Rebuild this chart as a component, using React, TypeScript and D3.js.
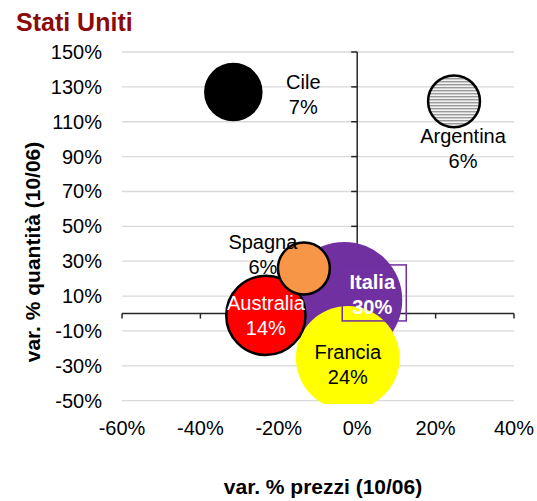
import React from "react";
import * as d3 from "d3";

const countries = ["Cile", "Argentina", "Italia", "Francia", "Australia", "Spagna"];
const priceVar = [-31.6, 24.7, -3.3, -2.4, -23.3, -13.6];
const qtyVar = [127, 121.7, 7.8, -25.5, -1.1, 25.8];
const share = [7, 6, 30, 24, 14, 6];
const xTickValues = [-60, -40, -20, 0, 20, 40];
const yTickValues = [150, 130, 110, 90, 70, 50, 30, 10, -10, -30, -50];

const title = "Stati Uniti";
const xTitle = "var. % prezzi (10/06)";
const yTitle = "var. % quantità (10/06)";

const style: Record<string, { fill: string; stroke: string; text: string; bold: boolean; dx: number; dy: number }> = {
  Cile: { fill: "#000000", stroke: "#000000", text: "#000000", bold: false, dx: 70, dy: -10 },
  Argentina: { fill: "url(#stripes)", stroke: "#000000", text: "#000000", bold: false, dx: 9, dy: 35 },
  Italia: { fill: "#7030A0", stroke: "none", text: "#FFFFFF", bold: true, dx: 28, dy: -18 },
  Francia: { fill: "#FFFF00", stroke: "none", text: "#000000", bold: false, dx: 0, dy: -6 },
  Australia: { fill: "#FF0000", stroke: "#000000", text: "#FFFFFF", bold: false, dx: 0, dy: -12 },
  Spagna: { fill: "#F79646", stroke: "#000000", text: "#000000", bold: false, dx: -41, dy: -27 },
};

const FONT = "'Liberation Sans', Arial, sans-serif";

export default function App() {
  const W = 537, H = 501;
  const x = d3.scaleLinear().domain([-60, 40]).range([122, 514]);
  const y = d3.scaleLinear().domain([-50, 150]).range([400.7, 52]);
  const r = d3.scaleSqrt().domain([0, 30]).range([0, 58]);

  const data = countries.map((c, i) => ({ c, px: priceVar[i], qy: qtyVar[i], s: share[i] }));
  const order = ["Cile", "Argentina", "Italia", "Francia", "Australia", "Spagna"];
  const drawn = order.map((c) => data.find((d) => d.c === c)!);

  const x0 = x(0), y0 = y(0);
  const italia = data.find((d) => d.c === "Italia")!;
  const ix = x(italia.px) + style.Italia.dx, iy = y(italia.qy) + style.Italia.dy;

  return (
    <svg width={W} height={H} style={{ position: "absolute", left: 0, top: 0, background: "#fff" }} fontFamily={FONT}>
      <defs>
        <pattern id="stripes" width="4" height="3" patternUnits="userSpaceOnUse">
          <rect width="4" height="3" fill="#f2f2f2" />
          <rect width="4" height="1.4" fill="#9a9a9a" />
        </pattern>
        <clipPath id="plot">
          <rect x={122} y={45} width={392} height={359} />
        </clipPath>
      </defs>
      <text x={16} y={31} fontSize={25} fontWeight="bold" fill="#8B0A0A">{title}</text>
      {yTickValues.map((t) => (
        <line key={"g" + t} x1={x(-60)} x2={x(40)} y1={y(t)} y2={y(t)} stroke="#d9d9d9" strokeWidth={1.3} />
      ))}
      {yTickValues.map((t) => (
        <text key={"yl" + t} x={102} y={y(t)} dy="0.35em" fontSize={20} textAnchor="end" fill="#000">{t}%</text>
      ))}
      {xTickValues.map((t) => (
        <text key={"xl" + t} x={x(t)} y={428} dy="0.35em" fontSize={20} textAnchor="middle" fill="#000">{t}%</text>
      ))}
      {/* axes */}
      <line x1={x0} x2={x0} y1={y(150)} y2={y(-50)} stroke="#262626" strokeWidth={1.5} />
      {yTickValues.map((t) => (
        <line key={"yt" + t} x1={x0 - 6} x2={x0} y1={y(t)} y2={y(t)} stroke="#262626" strokeWidth={1.5} />
      ))}
      <line x1={x(-60)} x2={x(40)} y1={y0} y2={y0} stroke="#262626" strokeWidth={1.5} />
      {xTickValues.map((t) => (
        <line key={"xt" + t} x1={x(t)} x2={x(t)} y1={y0} y2={y0 + 5} stroke="#262626" strokeWidth={1.5} />
      ))}
      <g clipPath="url(#plot)">
        {drawn.map((d) => (
          <circle key={d.c} cx={x(d.px)} cy={y(d.qy)} r={r(d.s)} fill={style[d.c].fill}
            stroke={style[d.c].stroke} strokeWidth={style[d.c].stroke === "none" ? 0 : 2.5} />
        ))}
      </g>
      <rect x={ix - 30} y={iy - 17} width={64} height={56} fill="none" stroke="#7030A0" strokeWidth={1.5} />
      {drawn.map((d) => {
        const st = style[d.c];
        const cx = x(d.px) + st.dx, cy = y(d.qy) + st.dy;
        return (
          <g key={"lab" + d.c} fill={st.text} fontSize={20} fontWeight={st.bold ? "bold" : "normal"} textAnchor="middle">
            <text x={cx} y={cy} dy="0.35em">{d.c}</text>
            <text x={cx} y={cy + 25} dy="0.35em">{d.s}%</text>
          </g>
        );
      })}
      <text transform={`translate(33,252) rotate(-90)`} fontSize={21} fontWeight="bold" textAnchor="middle" dy="0.35em" fill="#000">{yTitle}</text>
      <text x={323} y={487} fontSize={21} fontWeight="bold" textAnchor="middle" dy="0.35em" fill="#000">{xTitle}</text>
    </svg>
  );
}
